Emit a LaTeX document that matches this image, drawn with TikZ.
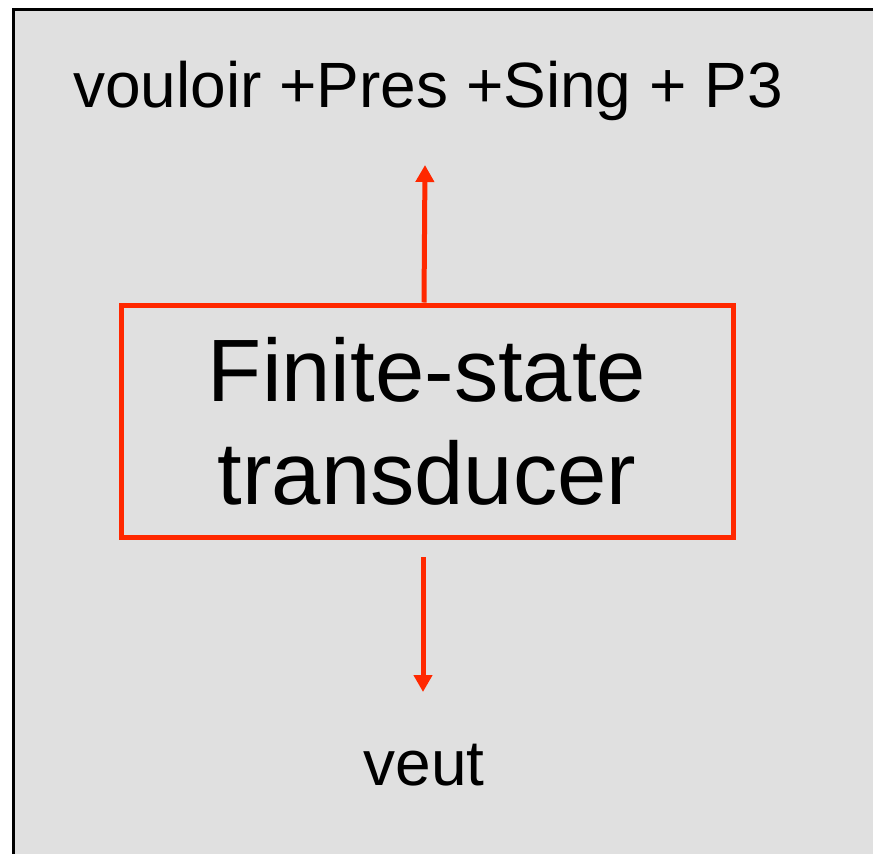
\documentclass[tikz,border=0pt]{standalone}
\usepackage{fontspec}
\setmainfont{Liberation Sans}
\usetikzlibrary{arrows.meta}
\definecolor{fstred}{RGB}{255,40,0}
\definecolor{panelgray}{RGB}{224,224,224}
\tikzset{
  fstbox/.style={draw=fstred, line width=5pt, minimum width=612pt, minimum height=232pt, align=center, inner sep=0pt},
  fstarrow/.style={draw=fstred, line width=5pt, -{Triangle[length=17pt,width=18pt]}},
  wordlabel/.style={anchor=base, inner sep=0pt, font=\fontsize{64}{77}\selectfont}
}

\begin{document}
\begin{tikzpicture}[x=1pt, y=-1pt]
			%%%%% START %%%%%
			
			\useasboundingbox (0, 0) rectangle (873, 854);
			\clip (0, 0) rectangle (873, 854);
			\draw[fill=panelgray, line width=3pt] (13, 9) rectangle (900, 900);
			
			\node[fstbox, font=\fontsize{88.6}{103}\selectfont] (fst) at (427, 421) {Finite-state\\transducer};
			
			\node[wordlabel] (analysis) at (428, 107) {vouloir +Pres +Sing + P3};
			\node[wordlabel] (surface) at (424, 785) {veut};
			
			\coordinate (uptip) at (425, 165);
			\coordinate (downstart) at (423, 557);
			\coordinate (downtip) at (423, 692);
			
			\draw[fstarrow] ([xshift=-3pt]fst.north) -- (uptip);
			\draw[fstarrow] (downstart) -- (downtip);
			
			%%%%% END %%%%%
\end{tikzpicture}
\end{document}
